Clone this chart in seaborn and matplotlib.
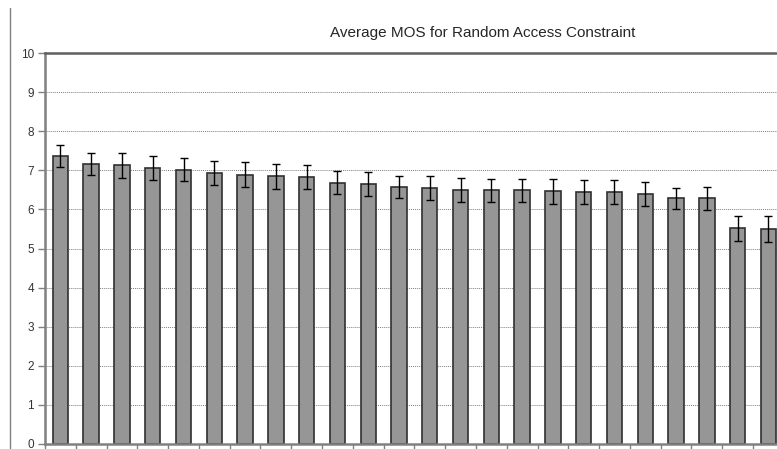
import numpy as np
import pandas as pd
import seaborn as sns
import matplotlib.pyplot as plt
from matplotlib.lines import Line2D

# Average MOS per test condition
conditions = [f"C{i}" for i in range(1, 25)]
mos = [7.37, 7.17, 7.13, 7.06, 7.02, 6.94, 6.89, 6.85, 6.83, 6.68, 6.65, 6.57,
       6.55, 6.50, 6.49, 6.49, 6.47, 6.45, 6.44, 6.39, 6.28, 6.28, 5.52, 5.49]
ci = [0.28, 0.28, 0.32, 0.30, 0.29, 0.31, 0.31, 0.32, 0.31, 0.29, 0.30, 0.28,
      0.30, 0.30, 0.29, 0.30, 0.32, 0.30, 0.30, 0.30, 0.28, 0.30, 0.32, 0.33]

df = pd.DataFrame({"condition": conditions, "mos": mos})

sns.set_style("white")
plt.rcParams["font.family"] = ["Liberation Sans", "DejaVu Sans"]

fig = plt.figure(figsize=(7.77, 4.49), dpi=100)
ax = fig.add_axes([45 / 777, 5 / 449, (777 - 45) / 777, (444 - 53) / 449])

sns.barplot(data=df, x="condition", y="mos", color="#969696", saturation=1,
            width=0.5, edgecolor="#303030", linewidth=1.2, errorbar=None, ax=ax)
ax.errorbar(np.arange(len(mos)), mos, yerr=ci, fmt="none", ecolor="black",
            elinewidth=1.0, capsize=3, capthick=1.0, zorder=5)

ax.set_ylim(0, 10)
ax.set_xlim(-0.5, 23.28)
ax.set_yticks(range(0, 11))
ax.set_xticks(np.arange(-0.5, 23.5, 1))
ax.set_xticklabels([])
ax.set_xlabel("")
ax.set_ylabel("")
ax.tick_params(axis="y", labelsize=8.5, length=5, width=1, color="#808080",
               direction="out", pad=3, left=True, labelcolor="#333333")
ax.tick_params(axis="x", length=4, width=1, color="#808080", direction="out",
               bottom=True)

for y in range(1, 10):
    ax.axhline(y, color="#808080", linestyle=(0, (1, 1)), linewidth=0.7, zorder=0)

for side in ["left", "bottom"]:
    ax.spines[side].set_color("#808080")
    ax.spines[side].set_linewidth(1.8)
ax.spines["top"].set_color("#606060")
ax.spines["top"].set_linewidth(1.8)
ax.spines["right"].set_visible(False)

fig.text(483 / 777, 1 - 33 / 449, "Average MOS for Random Access Constraint",
         ha="center", va="center", fontsize=11)
fig.add_artist(Line2D([10 / 777, 10 / 777], [0, 1 - 8 / 449],
                      transform=fig.transFigure, color="#808080", linewidth=1))

fig.savefig("out.png", dpi=100)
